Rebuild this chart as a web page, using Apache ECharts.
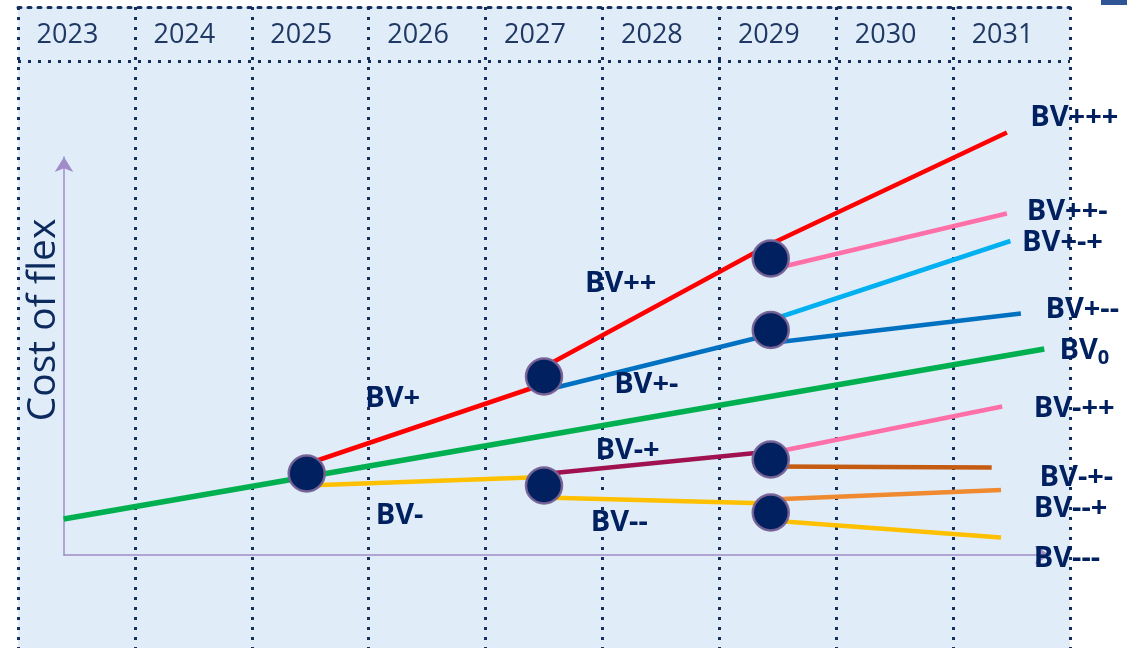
<!DOCTYPE html>
<html>
<head>
<meta charset="utf-8">
<script src="https://cdn.jsdelivr.net/npm/echarts@6/dist/echarts.min.js"></script>
<style>
  html, body { margin: 0; padding: 0; background: #fff; }
  #chart { width: 1127px; height: 648px; }
</style>
</head>
<body>
<div id="chart"></div>
<script>
// years across the top of the table
const years = ['2023', '2024', '2025', '2026', '2027', '2028', '2029', '2030', '2031']

// branch lines, [year, cost]
const bv0 = [[2022.89, 7.2], [2031.28, 41.2]]
const bvP = [[2024.97, 18.2], [2027.0, 34.2]]
const bvPP = [[2027.0, 37.6], [2028.94, 62.2]]
const bvPPP = [[2028.94, 62.2], [2030.96, 84.5]]
const bvM = [[2024.97, 13.9], [2027.0, 15.6]]
const bvPM = [[2027.0, 32.9], [2028.94, 44.1]]
const bvMP = [[2027.0, 16.2], [2028.94, 20.7]]
const bvMM = [[2027.0, 11.5], [2028.94, 10.3]]
const bvPPM = [[2028.94, 57.1], [2030.96, 68.3]]
const bvPMP = [[2028.94, 47.0], [2030.99, 62.8]]
const bvPMM = [[2028.94, 42.4], [2031.08, 48.3]]
const bvMPP = [[2028.94, 20.4], [2030.92, 29.7]]
const bvMPM = [[2028.94, 17.7], [2030.83, 17.5]]
const bvMMP = [[2028.94, 11.1], [2030.91, 13.0]]
const bvMMM = [[2028.94, 6.9], [2030.91, 3.5]]

// decision points
const nodes = [
  [2024.97, 16.3],
  [2027.0, 35.7], [2027.0, 13.9],
  [2028.94, 59.3], [2028.94, 45.0], [2028.94, 19.1], [2028.94, 8.5]
]

// branch names and where they sit
const labelNames = ['BV+++', 'BV++-', 'BV+-+', 'BV+--', 'BV0', 'BV-++', 'BV-+-', 'BV--+', 'BV---',
  'BV++', 'BV+', 'BV+-', 'BV-+', 'BV-', 'BV--']
const labelAt = [
  [2031.16, 87.5], [2031.13, 68.6], [2031.09, 62.4], [2031.29, 49.0], [2031.41, 40.8],
  [2031.19, 29.3], [2031.24, 15.5], [2031.19, 9.2], [2031.19, -0.7],
  [2027.35, 54.2], [2025.47, 31.3], [2027.6, 34.0], [2027.44, 20.8], [2025.56, 7.8], [2027.4, 6.5]
]

const headerLine = 98.8

const RED = '#ff0000'
const YELLOW = '#ffc000'
const BLUE = '#0070c0'
const PINK = '#ff6fa8'
const branches = [
  { name: 'BV0', data: bv0, color: '#00b050', width: 5.5 },
  { name: 'BV+', data: bvP, color: RED },
  { name: 'BV++', data: bvPP, color: RED },
  { name: 'BV+++', data: bvPPP, color: RED },
  { name: 'BV-', data: bvM, color: YELLOW },
  { name: 'BV+-', data: bvPM, color: BLUE },
  { name: 'BV-+', data: bvMP, color: '#a0114f' },
  { name: 'BV--', data: bvMM, color: YELLOW },
  { name: 'BV++-', data: bvPPM, color: PINK },
  { name: 'BV+-+', data: bvPMP, color: '#00b0f0' },
  { name: 'BV+--', data: bvPMM, color: BLUE },
  { name: 'BV-++', data: bvMPP, color: PINK },
  { name: 'BV-+-', data: bvMPM, color: '#c55a11' },
  { name: 'BV--+', data: bvMMP, color: '#f08a30' },
  { name: 'BV---', data: bvMMM, color: YELLOW },
]

const dotted = { color: '#15305e', width: 3, type: [3, 7] }
const axisPurple = '#a08cc8'

const chart = echarts.init(document.getElementById('chart'))

const series = branches.map(b => ({
  name: b.name,
  type: 'line',
  xAxisIndex: 1,
  yAxisIndex: 0,
  data: b.data,
  showSymbol: false,
  silent: true,
  z: 3,
  lineStyle: { color: b.color, width: b.width || 4.5 },
}))

series.push({
  name: 'nodes',
  type: 'scatter',
  xAxisIndex: 1,
  yAxisIndex: 0,
  data: nodes,
  symbolSize: 36,
  silent: true,
  z: 5,
  itemStyle: { color: '#002060', opacity: 1, borderColor: 'rgba(118,98,150,0.95)', borderWidth: 2.5 },
})

series.push({
  name: 'labels',
  type: 'scatter',
  xAxisIndex: 1,
  yAxisIndex: 0,
  data: labelAt.map((p, i) => ({ value: p, name: labelNames[i] })),
  symbolSize: 0,
  silent: true,
  z: 6,
  itemStyle: { opacity: 1 },
  label: {
    show: true,
    position: 'right',
    distance: 0,
    color: '#002060',
    fontFamily: 'Open Sans',
    fontWeight: 'bold',
    fontSize: 29,
    formatter: p => p.name === 'BV0' ? '{a|BV}{s|0}' : p.name,
    rich: {
      a: { fontFamily: 'Open Sans', fontWeight: 'bold', fontSize: 29, color: '#002060' },
      s: { fontFamily: 'Open Sans', fontWeight: 'bold', fontSize: 20, color: '#002060', padding: [14, 0, 0, 0] },
    },
  },
  markLine: {
    silent: true,
    symbol: 'none',
    label: { show: false },
    lineStyle: dotted,
    data: [{ yAxis: headerLine }],
  },
})

chart.setOption({
  animation: false,
  grid: [
    { left: 18, right: 57, top: 7, bottom: 0, show: true, backgroundColor: '#e0edf8', borderWidth: 0 },
    { left: 64, right: 77, top: 157, bottom: 93 },
  ],
  xAxis: [
    {
      type: 'category',
      gridIndex: 0,
      position: 'top',
      data: years,
      axisLine: { show: true, onZero: false, lineStyle: dotted },
      axisTick: { show: false },
      splitLine: { show: true, lineStyle: dotted },
      axisLabel: {
        inside: true,
        margin: 28,
        verticalAlign: 'middle',
        padding: [0, 18, 0, 0],
        color: '#1f3864',
        fontFamily: 'Open Sans',
        fontSize: 27,
      },
    },
    { type: 'value', gridIndex: 0, min: 2022.5, max: 2031.5, show: false },
    {
      type: 'value',
      gridIndex: 1,
      min: 0,
      max: 1,
      axisLine: { show: true, onZero: false, symbol: ['none', 'arrow'], symbolSize: [14, 15], lineStyle: { color: axisPurple, width: 1.5 } },
      axisTick: { show: false },
      axisLabel: { show: false },
      splitLine: { show: false },
    },
  ],
  yAxis: [
    { type: 'value', gridIndex: 0, min: -18.6, max: 109.6, show: false },
    {
      type: 'value',
      gridIndex: 1,
      min: 0,
      max: 1,
      axisLine: { show: true, onZero: false, symbol: ['none', 'arrow'], symbolSize: [14, 15], lineStyle: { color: axisPurple, width: 1.5 } },
      axisTick: { show: false },
      axisLabel: { show: false },
      splitLine: { show: false },
    },
  ],
  graphic: [
    { type: 'rect', shape: { x: 1101, y: 0, width: 26, height: 5 }, style: { fill: '#2f5597' } },
    {
      type: 'text',
      x: 44,
      y: 320,
      rotation: Math.PI / 2,
      style: { text: 'Cost of flex', font: '39px "Open Sans"', fill: '#0c2a5e', align: 'center', verticalAlign: 'middle' },
    },
  ],
  series,
})
</script>
</body>
</html>
